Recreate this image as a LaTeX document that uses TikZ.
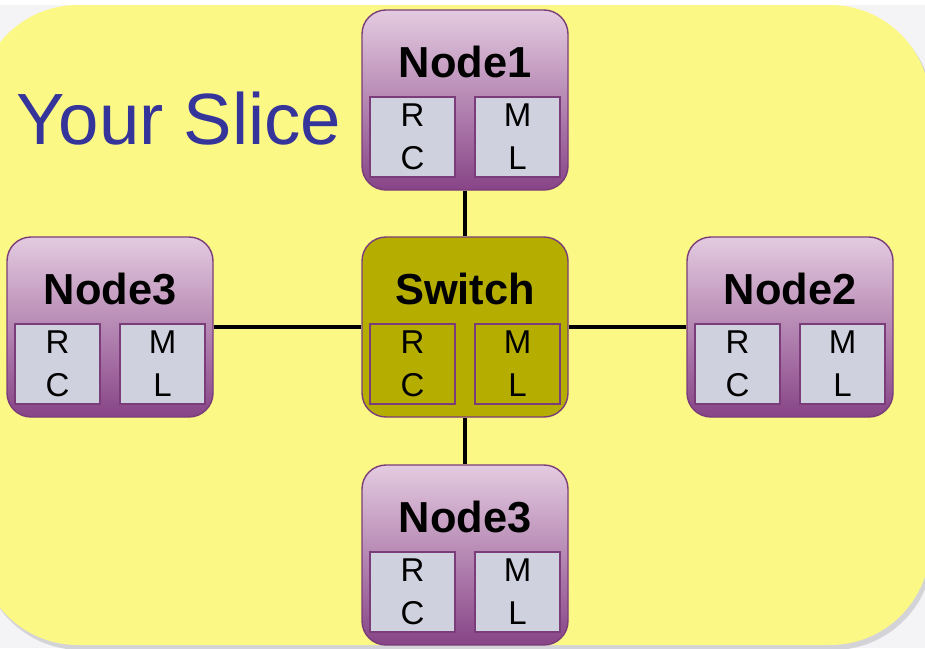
\documentclass[tikz,border=0pt]{standalone}
\usepackage{fontspec}
\setmainfont{Liberation Sans}
\usetikzlibrary{positioning}
\definecolor{paper}{HTML}{F4F4F6}
\definecolor{shadow}{HTML}{D4D4D8}
\definecolor{slice}{HTML}{FCF886}
\definecolor{sliceink}{HTML}{35349A}
\definecolor{plum}{HTML}{7A3D7A}
\definecolor{plumtop}{HTML}{E4CBE0}
\definecolor{plummid}{HTML}{B487B0}
\definecolor{plumbot}{HTML}{874487}
\definecolor{chip}{HTML}{D0D1DF}
\definecolor{olive}{HTML}{B5AD00}

\begin{document}
\begin{tikzpicture}[x=.5pt,y=-.5pt,
  hostbox/.style={draw=plum,line width=.7pt,rounded corners=12pt,inner sep=0pt,
    minimum width=103pt,minimum height=90pt,
    top color=plumtop,middle color=plummid,bottom color=plumbot},
  swbox/.style={draw=plum,line width=.7pt,rounded corners=12pt,inner sep=0pt,
    minimum width=103pt,minimum height=90pt,fill=olive},
  hostchip/.style={draw=plum,line width=.6pt,fill=chip,inner sep=0pt,
    minimum width=42.5pt,minimum height=40pt,align=center,
    font=\fontsize{16.5}{21.5}\selectfont},
  swchip/.style={hostchip,fill=olive},
  title/.style={inner sep=0pt,font=\fontsize{21.7}{26}\selectfont\bfseries},
  wire/.style={draw=black,line width=2pt}
]
\useasboundingbox (0,0) rectangle (925,648);
\clip (0,0) rectangle (925,648);
\fill[paper] (0,0) rectangle (925,648);
\fill[white] (0,0) rectangle (925,5);
% the slice
\fill[shadow,rounded corners=50pt] (-19,9) rectangle (933,650);
\fill[slice,rounded corners=50pt] (-22,5) rectangle (930,645);
\node[text=sliceink,inner sep=0pt,font=\fontsize{36.3}{40}\selectfont]
  (slicename) at (179,119) {Your Slice};
% hosts and switch
\foreach \nm/\cx/\cy/\txt/\shell/\chp in {
    top/465/100/Node1/hostbox/hostchip,
    sw/465/327/Switch/swbox/swchip,
    west/110/327/Node3/hostbox/hostchip,
    east/790/327/Node2/hostbox/hostchip,
    bot/465/555/Node3/hostbox/hostchip}{
  \node[\shell] (\nm) at (\cx,\cy) {};
  \node[title] (\nm-t) at (\cx,\cy-38) {\txt};
  \node[\chp] (\nm-rc) at (\cx-52.5,\cy+37) {R\\C};
  \node[\chp] (\nm-ml) at (\cx+52.5,\cy+37) {M\\L};
}
% links
\draw[wire] (top.south)--(sw.north);
\draw[wire] (bot.north)--(sw.south);
\draw[wire] (west.east)--(sw.west);
\draw[wire] (east.west)--(sw.east);
\end{tikzpicture}
\end{document}
